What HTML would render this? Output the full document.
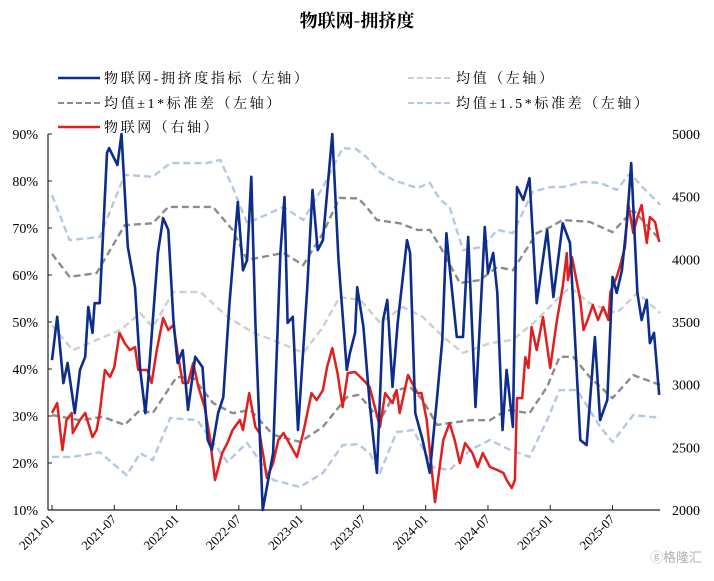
<!DOCTYPE html>
<html><head><meta charset="utf-8">
<style>
body{margin:0;background:#fff;}
svg text{font-family:"Liberation Serif","Noto Serif CJK SC",serif;}
</style></head>
<body>
<svg id="chart" width="714" height="576" xmlns="http://www.w3.org/2000/svg">
<text x="357" y="27" text-anchor="middle" font-size="18" font-weight="bold" style="font-family:'Noto Serif CJK SC','Noto Sans CJK SC',serif">物联网-拥挤度</text>
<g id="legend" font-size="14" letter-spacing="2.6">
<g><line x1="58" y1="78" x2="100" y2="78" stroke="#0d2d8c" stroke-width="2.5"/><text x="104" y="83">物联网-拥挤度指标（左轴）</text></g>
<g><line x1="408" y1="78" x2="450" y2="78" stroke="#cfcfcf" stroke-width="2" stroke-dasharray="6,3"/><text x="456" y="83">均值（左轴）</text></g>
<g><line x1="58" y1="103" x2="100" y2="103" stroke="#8c8c8c" stroke-width="2" stroke-dasharray="6,3"/><text x="104" y="108">均值±1*标准差（左轴）</text></g>
<g><line x1="408" y1="103" x2="450" y2="103" stroke="#b4c7e7" stroke-width="2" stroke-dasharray="6,3"/><text x="456" y="108">均值±1.5*标准差（左轴）</text></g>
<g><line x1="58" y1="127" x2="100" y2="127" stroke="#e02020" stroke-width="2.5"/><text x="104" y="132">物联网（右轴）</text></g>
</g>
<g id="axes"></g>
<g id="series"></g>
<text x="650" y="562" font-size="13" fill="#b0b0b0" style="font-family:'Noto Sans CJK SC',sans-serif">ⓖ格隆汇</text>
</svg>
<script>
const xTickLabels=["2021-01","2021-07","2022-01","2022-07","2023-01","2023-07","2024-01","2024-07","2025-01","2025-07"];
const leftTicks=[10,20,30,40,50,60,70,80,90];
const rightTicks=[2000,2500,3000,3500,4000,4500,5000];
// months since 2021-01
const congM=[0,0.5,1.1,1.5,2.2,2.7,3.2,3.5,3.9,4.1,4.6,5.3,5.5,6.3,6.7,7.3,8,8.5,9,9.4,10.2,10.7,11.2,11.7,12.1,12.6,13.1,13.8,14.5,15,15.4,16,16.5,17.1,17.9,18.4,18.8,19.2,19.6,20.3,21.3,22,22.4,22.7,23.2,23.7,24.6,25.1,25.6,26.1,27,27.6,28.4,28.7,29.2,29.4,30,30.6,31.3,31.9,32.3,32.8,33.3,34.2,34.5,35,35.7,36.4,37.1,37.6,38,38.3,39,39.6,40.1,40.8,41.2,41.7,42,42.5,42.9,43.4,43.8,44.4,44.8,45.4,46,46.7,47.7,48.3,49.2,49.9,50.9,51.5,52.3,52.8,53.5,54,54.4,54.9,55.4,55.8,56.4,56.8,57.3,57.6,58,58.5];
const congV=[41.9,51.1,37,41.3,30.6,39.8,42.6,53.2,47.7,54,54,86,87,83.4,90,66,57.4,39.8,30.6,41.3,64.7,72.1,69.6,50.4,41.3,44,31.3,42.6,40.4,24.9,22.8,30.6,34,54,75.5,61,63.2,80.9,49.8,10,22.1,64.7,76.6,49.8,51.1,27,57.4,78.1,65.3,67.4,90,63.2,39.8,43.4,47.7,57.4,49,32.8,17.9,50.4,54.7,36.2,49.8,67.4,64.7,30.6,24.9,17.9,34,46.2,68.9,61.7,46.8,46.8,68.1,31.9,48.9,70.2,60.4,64.7,56.2,27,39.8,27.7,78.7,76,80.6,54,69.6,55.3,71,66.8,24.9,23.8,46.8,29.1,33.4,59.6,56.2,61,71.7,83.8,56.2,50.4,54.7,45.5,47.7,34.5];
const idxM=[0,0.5,1,1.4,1.9,2,2.7,3.2,3.9,4.3,4.6,5.1,5.6,6,6.5,7,7.5,8,8.3,9.2,9.6,10.1,10.7,11.2,11.7,12.1,12.6,13.1,13.6,14.1,14.7,15.2,15.7,16.4,16.9,17.4,18.1,18.4,19,19.6,20,20.7,21.3,21.8,22.3,22.7,23.6,24.2,25,25.5,26.1,26.5,27,27.5,28,28.5,29.2,30,30.6,31.6,32.1,32.8,33.2,33.5,34.3,35.2,35.6,36.1,36.9,37.7,38.3,38.8,39.3,39.8,40.5,41,41.5,42.2,42.9,43.5,43.8,44.3,44.6,44.8,45.3,45.6,45.9,46.2,46.7,47.3,48,48.6,49.2,49.6,49.7,50.1,50.9,51.2,51.6,52.1,52.6,53.1,53.6,53.8,54.4,54.7,55.2,55.5,56,56.4,56.8,57.3,57.6,58.1,58.5];
const idxV=[2774,2853,2478,2718,2774,2614,2718,2774,2582,2638,2774,3117,3061,3141,3412,3332,3276,3300,3117,3117,3013,3276,3532,3436,3476,3252,3013,3013,3173,2981,2822,2582,2239,2454,2534,2638,2718,2638,2933,2662,2614,2255,2374,2558,2614,2558,2422,2614,2933,2877,2957,3141,3292,3093,2822,3093,3101,3037,2981,2662,2933,2853,2957,2774,3077,2933,2933,2718,2063,2558,2694,2558,2374,2534,2454,2343,2454,2343,2319,2295,2239,2175,2239,2893,2893,3220,3133,3460,3276,3540,3133,3492,3779,4050,3835,4018,3675,3436,3516,3636,3516,3620,3516,3739,3859,3939,4098,4449,4210,4338,4433,4130,4338,4298,4138];
const meanM=[0,2,4.3,6.6,8.5,9.7,11.7,14.3,16.9,19.4,21.3,24.2,26.1,27.7,29.7,31.6,33.8,35.7,37.7,39.6,42.2,44.4,46.7,48.6,49.9,51.8,54.4,56.4,58.6];
const meanV=[49.3,44,46.2,48.3,51.9,48.9,56.4,56.4,51.1,47.7,46.2,43.4,48.9,55.3,54.7,49.8,53.2,51.1,46.8,43.4,45.5,46.2,50.4,54.7,57.4,54,51.9,56.2,51.9];
const up1M=[0,1.7,4.3,7,9.7,11.2,15.5,17.4,18.8,22.3,24.2,26.1,27.7,29.5,30.3,31.3,33.5,35.2,36.4,37.4,39.3,41.2,42.9,44.4,46.7,48,49.2,51.8,54,56,58.6];
const up1V=[64.5,59.6,60.4,70.6,71,74.5,74.5,69.6,63.2,64.7,62.1,68.9,76.4,76.3,74.5,71.7,71,69.6,69.6,66,58.3,58.9,61.7,61,68.9,70.2,71.7,71.3,69.1,73.8,67.4];
const dn1M=[0,2.7,4.9,7,8.5,9.7,12,13.6,15.5,17.4,19.1,21.3,23.9,26.1,28.4,29.5,30,31.6,33.2,34.5,35.7,37.1,38.3,40.3,42.2,43.8,46,47.7,48.9,50.2,51.8,54,56,58.6];
const dn1V=[30.2,29.1,29.8,28.1,31.3,30.6,38.3,38.1,32.8,30.6,31.3,26,24.5,27.7,34,34.5,33.4,29.1,35.5,36.2,33.4,28.1,28.5,29.1,29.1,31.3,30.6,36.2,42.6,42.6,38.3,33.8,38.7,36.6];
const up15M=[0,1.7,4.6,7,9.7,11.4,14.9,16.2,17.4,18.8,22.3,24.2,26.1,28,29.3,30.3,31.6,32.9,35.2,36.4,37.4,38.3,39.6,41.5,42.9,44.4,46.3,48,49.2,51.2,52.8,54.4,55.7,56.9,58.6];
const up15V=[77,67.4,68.1,81.3,80.9,83.8,83.8,84.5,78.7,71,74.5,71.7,78.7,87,86.8,85.1,81.9,80.2,78.5,79.6,76,74.5,65.3,66,69.6,68.9,77.7,78.7,78.7,79.8,79.6,78.1,81.7,78.7,74.9];
const dn15M=[0,2,4.6,7.2,8.5,9.7,11.4,14,16.9,18.8,21.3,23.9,26.1,28,29.5,30.6,31.6,33.2,34.8,36.7,38.3,40.3,42.2,44.1,46,47.7,48.9,50.6,52.8,54,56,58.6];
const dn15V=[21.3,21.3,22.3,17.4,22.1,20.6,29.6,29.1,20.2,24.3,16.4,14.9,17.9,23.8,24,22.1,17.9,26.6,27,19.1,18.5,22.8,24.9,22.8,21.3,29.1,35.5,35.5,27.7,24.5,30.2,29.6];

const X0=52,XM=10.38,Y90=134,Y10=510;
const xS=m=>X0+m*XM;
const yL=v=>Y10-(v-10)*(Y10-Y90)/80;
const yR=v=>Y10-(v-2000)*(Y10-Y90)/3000;
const NS="http://www.w3.org/2000/svg";
function mk(tag,attrs,parent){const e=document.createElementNS(NS,tag);for(const k in attrs)e.setAttribute(k,attrs[k]);parent.appendChild(e);return e;}
const axes=document.getElementById('axes'),series=document.getElementById('series');
const lx=mk('line',{x1:48,y1:Y90,x2:48,y2:Y10,stroke:'#222','stroke-width':1.2},axes);


const bx=mk('line',{x1:48,y1:Y10,x2:660,y2:Y10,stroke:'#222','stroke-width':1.2},axes);


leftTicks.forEach(v=>{
  mk('line',{x1:48,y1:yL(v),x2:52,y2:yL(v),stroke:'#222'},axes);
  const t=mk('text',{x:38,y:yL(v)+5,'text-anchor':'end','font-size':14},axes);t.textContent=v+'%';
  
  
});
rightTicks.forEach(v=>{
  const t=mk('text',{x:672,y:yR(v)+5,'font-size':14},axes);t.textContent=v;
  
  
});
xTickLabels.forEach((s,i)=>{
  const x=xS(i*6);
  mk('line',{x1:x,y1:Y10,x2:x,y2:Y10-5,stroke:'#222'},axes);
  const t=mk('text',{x:x+3,y:Y10+10,'text-anchor':'end','font-size':13,transform:`rotate(-45 ${x+3} ${Y10+10})`},axes);t.textContent=s;
  
  
});
function line(ms,vs,ys,color,w,dash,name){
  const d=ms.map((m,i)=>(i?'L':'M')+xS(m).toFixed(1)+','+ys(vs[i]).toFixed(1)).join('');
  const p=mk('path',{d:d,fill:'none',stroke:color,'stroke-width':w,'stroke-linejoin':'round'},series);
  if(dash)p.setAttribute('stroke-dasharray',dash);
  
  
}
line(up15M,up15V,yL,'#b4c7e7',2.4,'7,4','mean-plus-1.5sd-line');
line(dn15M,dn15V,yL,'#b4c7e7',2.4,'7,4','mean-minus-1.5sd-line');
line(meanM,meanV,yL,'#cfcfcf',2.4,'7,4','mean-line');
line(up1M,up1V,yL,'#8c8c8c',2.4,'7,4','mean-plus-1sd-line');
line(dn1M,dn1V,yL,'#8c8c8c',2.4,'7,4','mean-minus-1sd-line');
line(idxM,idxV,yR,'#e02020',2.5,null,'iot-index-line');
line(congM,congV,yL,'#0d2d8c',2.6,null,'congestion-line');
</script>
</body></html>
